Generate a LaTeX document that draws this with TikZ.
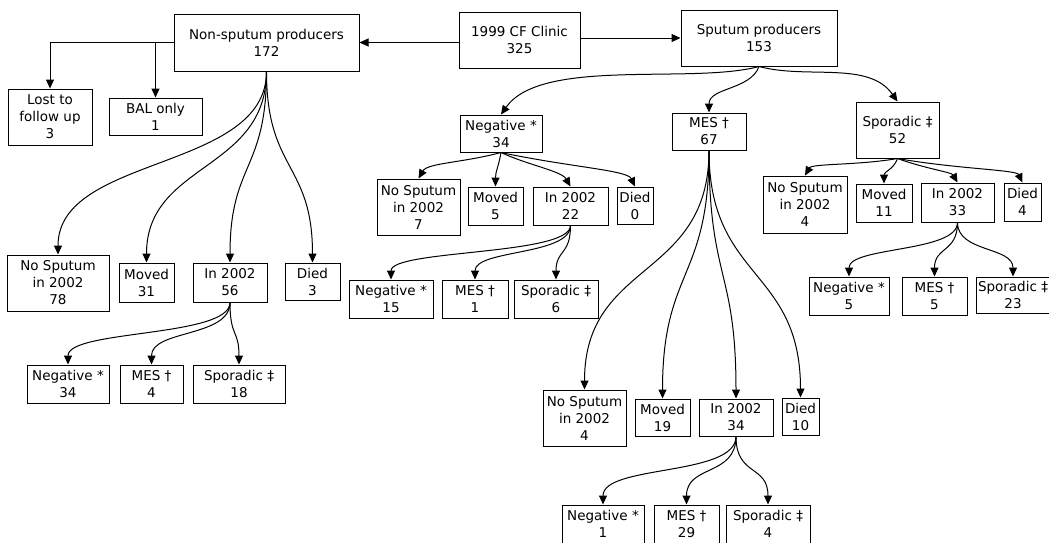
\documentclass[tikz,border=0pt]{standalone}
\usepackage{fontspec}
\setmainfont{DejaVu Sans}
\usetikzlibrary{arrows.meta}

\begin{document}
\begin{tikzpicture}[
    % style def
    x=1pt, y=1pt,
    box/.style 2 args={draw, line width=1pt, align=center, inner sep=1pt,
        minimum width=#1, minimum height=#2,
        font=\fontsize{13.5}{17}\selectfont},
    link/.style={line width=1pt, -{Triangle[length=9pt,width=8pt]}},
    branch/.style={link, out=-90, in=90, distance=#1pt}
    ]
    \useasboundingbox (0,0) rectangle (1049,-542);

    % top row
    \node[box={121}{56}] (clinic) at (519.5,-40) {1999 CF Clinic\\325};
    \node[box={185}{57}] (nonsp) at (266.5,-42.5) {Non-sputum producers\\172};
    \node[box={156}{56}] (sput) at (759,-38) {Sputum producers\\153};

    % non-sputum producers
    \node[box={84}{56}] (lost) at (50,-117) {Lost to\\follow up\\3};
    \node[box={93}{37}] (bal) at (155.5,-116.5) {BAL only\\1};
    \node[box={102}{56}] (nsNone) at (58,-283) {No Sputum\\in 2002\\78};
    \node[box={55}{39}] (nsMoved) at (146.5,-282.5) {Moved\\31};
    \node[box={74}{39}] (nsIn) at (230,-282.5) {In 2002\\56};
    \node[box={55}{37}] (nsDied) at (312.5,-281.5) {Died\\3};
    \node[box={82}{38}] (nsNeg) at (68,-384) {Negative *\\34};
    \node[box={63}{38}] (nsMes) at (151.5,-384) {MES †\\4};
    \node[box={92}{38}] (nsSpo) at (239,-384) {Sporadic ‡\\18};

    % negative
    \node[box={82}{37}] (neg) at (501,-133.5) {Negative *\\34};
    \node[box={83}{56}] (negNone) at (418.5,-207) {No Sputum\\in 2002\\7};
    \node[box={55}{38}] (negMoved) at (495.5,-206) {Moved\\5};
    \node[box={75}{38}] (negIn) at (570.5,-206) {In 2002\\22};
    \node[box={36}{37}] (negDied) at (635,-205.5) {Died\\0};
    \node[box={84}{38}] (negNeg) at (391,-299) {Negative *\\15};
    \node[box={66}{38}] (negMes) at (475,-299) {MES †\\1};
    \node[box={84}{38}] (negSpo) at (556,-299) {Sporadic ‡\\6};

    % MES
    \node[box={74}{37}] (mes) at (709,-131.5) {MES †\\67};
    \node[box={83}{56}] (mesNone) at (584.5,-418) {No Sputum\\in 2002\\4};
    \node[box={55}{37}] (mesMoved) at (662.5,-417.5) {Moved\\19};
    \node[box={74}{37}] (mesIn) at (736,-417.5) {In 2002\\34};
    \node[box={37}{37}] (mesDied) at (800.5,-416.5) {Died\\10};
    \node[box={82}{38}] (mesNeg) at (603,-524) {Negative *\\1};
    \node[box={65}{38}] (mesMes) at (686.5,-524) {MES †\\29};
    \node[box={84}{38}] (mesSpo) at (768,-524) {Sporadic ‡\\4};

    % sporadic
    \node[box={83}{56}] (spo) at (897.5,-130) {Sporadic ‡\\52};
    \node[box={84}{57}] (spoNone) at (805,-204.5) {No Sputum\\in 2002\\4};
    \node[box={56}{38}] (spoMoved) at (884,-203) {Moved\\11};
    \node[box={73}{39}] (spoIn) at (957.5,-202.5) {In 2002\\33};
    \node[box={37}{38}] (spoDied) at (1022.5,-202) {Died\\4};
    \node[box={80}{38}] (spoNeg) at (849,-296) {Negative *\\5};
    \node[box={65}{38}] (spoMes) at (934.5,-296) {MES †\\5};
    \node[box={74}{36}] (spoSpo) at (1013,-295) {Sporadic ‡\\23};

    % straight connectors
    \draw[link] (clinic.west |- nonsp.east) -- (nonsp.east);
    \draw[link] (clinic.east |- sput.west) -- (sput.west);
    \draw[link] (nonsp.west) -| (lost.north);
    \draw[link] (nonsp.west -| bal.north) -- (bal.north);

    % curved connectors
    \draw[branch=100] (nonsp.south) to (nsNone.north);
    \draw[branch=100] (nonsp.south) to (nsMoved.north);
    \draw[branch=100] (nonsp.south) to (nsIn.north);
    \draw[branch=100] (nonsp.south) to (nsDied.north);
    \draw[branch=35] (nsIn.south) to (nsNeg.north);
    \draw[branch=35] (nsIn.south) to (nsMes.north);
    \draw[branch=35] (nsIn.south) to (nsSpo.north);

    \draw[branch=70, out=-165, in=55] (sput.south) to (neg.north);
    \draw[branch=25, out=-110] (sput.south) to (mes.north);
    \draw[branch=50, out=-15, in=125] (sput.south) to (spo.north);

    \draw[link, out=-165, in=60, out distance=40pt, in distance=18pt] (neg.south) to (negNone.north);
    \draw[branch=15, out=-100] (neg.south) to (negMoved.north);
    \draw[link, out=-25, in=120, out distance=30pt, in distance=18pt] (neg.south) to (negIn.north);
    \draw[link, out=-12, in=115, out distance=70pt, in distance=18pt] (neg.south) to (negDied.north);
    \draw[branch=30] (negIn.south) to (negNeg.north);
    \draw[branch=30] (negIn.south) to (negMes.north);
    \draw[branch=30] (negIn.south) to (negSpo.north);

    \draw[branch=130] (mes.south) to (mesNone.north);
    \draw[branch=130] (mes.south) to (mesMoved.north);
    \draw[branch=130] (mes.south) to (mesIn.north);
    \draw[branch=130] (mes.south) to (mesDied.north);
    \draw[branch=40] (mesIn.south) to (mesNeg.north);
    \draw[branch=40] (mesIn.south) to (mesMes.north);
    \draw[branch=40] (mesIn.south) to (mesSpo.north);

    \draw[link, out=-170, in=60, out distance=40pt, in distance=14pt] (spo.south) to (spoNone.north);
    \draw[branch=12, out=-110] (spo.south) to (spoMoved.north);
    \draw[link, out=-20, in=120, out distance=30pt, in distance=12pt] (spo.south) to (spoIn.north);
    \draw[link, out=-10, in=115, out distance=60pt, in distance=14pt] (spo.south) to (spoDied.north);
    \draw[branch=30] (spoIn.south) to (spoNeg.north);
    \draw[branch=30] (spoIn.south) to (spoMes.north);
    \draw[branch=30] (spoIn.south) to (spoSpo.north);
\end{tikzpicture}
\end{document}
